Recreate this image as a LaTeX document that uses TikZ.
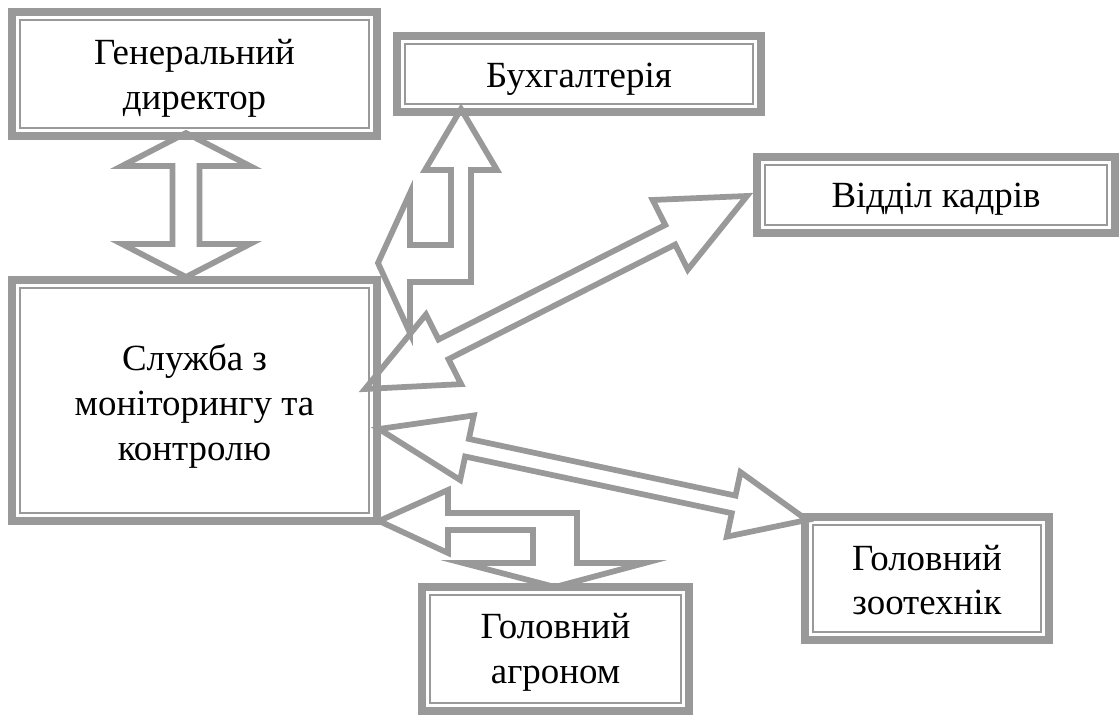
\documentclass[tikz,border=0pt]{standalone}
\usepackage{fontspec}
\setmainfont{Liberation Serif}
\usetikzlibrary{calc}
\definecolor{lg}{RGB}{153,153,153}
\tikzset{
  boxouter/.style={draw=lg, line width=0.16cm, inner sep=0pt, outer sep=0pt},
  boxinner/.style={draw=lg, line width=0.04cm},
  lbl/.style={align=center, inner sep=0pt, font=\fontsize{21}{25.5}\selectfont},
  blockarrow/.style={draw=lg, line width=0.115cm, line join=miter, miter limit=10},
}
\newcommand\innerline[1]{%
  \draw[boxinner] ([shift={(8,8)}]#1.north west) rectangle ([shift={(-8,-8)}]#1.south east);}
% #1 tip A, #2 tip B, #3 head length at A, #4 head length at B, #5 head half-width, #6 shaft half-width
\newcommand\dblarrow[6]{%
  \path coordinate (hA) at ($(#1)!#3!(#2)$) coordinate (hB) at ($(#2)!#4!(#1)$);
  \draw[blockarrow] (#1)
    -- ($(hA)!#5!90:(#2)$) -- ($(hA)!#6!90:(#2)$)
    -- ($(hB)!#6!-90:(#1)$) -- ($(hB)!#5!-90:(#1)$)
    -- (#2)
    -- ($(hB)!#5!90:(#1)$) -- ($(hB)!#6!90:(#1)$)
    -- ($(hA)!#6!-90:(#2)$) -- ($(hA)!#5!-90:(#2)$)
    -- cycle;}
\begin{document}
\begin{tikzpicture}[x=0.02cm, y=-0.02cm]
\useasboundingbox (0,0) rectangle (1119,715);
% boxes
\node[boxouter, minimum width=7.30cm, minimum height=2.48cm] (gd) at (194.5,74) {};
\node[boxouter, minimum width=7.28cm, minimum height=1.52cm] (bu) at (579,74) {};
\node[boxouter, minimum width=7.16cm, minimum height=1.52cm] (vk) at (936,195) {};
\node[boxouter, minimum width=7.30cm, minimum height=4.82cm] (sl) at (194.5,400.5) {};
\node[boxouter, minimum width=5.34cm, minimum height=2.48cm] (ag) at (555.5,649) {};
\node[boxouter, minimum width=4.88cm, minimum height=2.46cm] (zt) at (927,578.5) {};
\innerline{gd}\innerline{bu}\innerline{vk}\innerline{sl}\innerline{ag}\innerline{zt}
% labels
\node[lbl] (gdl) at ($(gd.center)+(0,4)$) {Генеральний\\директор};
\node[lbl] (bul) at ($(bu.center)+(0,5)$) {Бухгалтерія};
\node[lbl] (vkl) at ($(vk.center)+(0,4)$) {Відділ кадрів};
\node[lbl] (sll) at ($(sl.center)+(0,5.5)$) {Служба з\\моніторингу та\\контролю};
\node[lbl] (agl) at ($(ag.center)+(0,3)$) {Головний\\агроном};
\node[lbl] (ztl) at ($(zt.center)+(0,1.5)$) {Головний\\зоотехнік};
% arrow tips
\coordinate (t1a) at (186,133);
\coordinate (t1b) at (186,277);
\coordinate (t3a) at (365,389);
\coordinate (t3b) at (747,196);
\coordinate (t4a) at (379,429);
\coordinate (t4b) at (807,520);
% straight double arrows
\dblarrow{t1a}{t1b}{0.66cm}{0.66cm}{1.28cm}{0.27cm}
\dblarrow{t3a}{t3b}{1.76cm}{1.72cm}{0.78cm}{0.22cm}
\dblarrow{t4a}{t4b}{1.80cm}{1.50cm}{0.66cm}{0.18cm}
% bent arrow to accounting
\coordinate (t2a) at (378,263);
\coordinate (t2b) at (461,109);
\draw[blockarrow] (t2a) -- (410,193) -- (410,245) -- (451,245) -- (451,170) -- (425,170)
  -- (t2b) -- (497,170) -- (471,170) -- (471,282) -- (410,282) -- (410,333) -- cycle;
% bent arrow to agronomist
\coordinate (t5a) at (379,521);
\coordinate (t5b) at (555,587);
\draw[blockarrow] (t5a) -- (448,490) -- (448,513) -- (577,513) -- (577,563) -- (645,563)
  -- (t5b) -- (463,563) -- (533,563) -- (533,530) -- (448,530) -- (448,553) -- cycle;
\end{tikzpicture}
\end{document}
